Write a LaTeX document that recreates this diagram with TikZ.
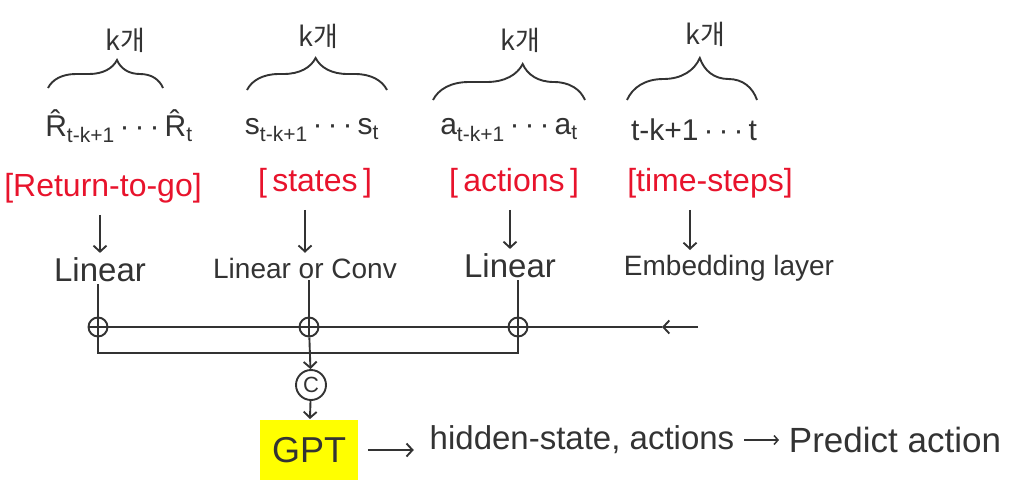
\documentclass[tikz,border=0pt]{standalone}
\usepackage{fontspec}
\setmainfont{Liberation Sans}
\newfontfamily\krfont{Noto Sans CJK KR}
\usetikzlibrary{arrows.meta,decorations.pathreplacing}
\definecolor{ink}{HTML}{333333}
\definecolor{mark}{HTML}{E8132C}
\definecolor{hilite}{HTML}{FFFF00}
\newcommand{\sub}[1]{\textsubscript{#1}}
\newcommand{\seqdots}{\,·\,·\,·\,}

\begin{document}
\begin{tikzpicture}[x=1pt,y=-1pt,line width=1.9pt,draw=ink,
  every node/.style={text=ink,inner sep=1pt},
  cnt/.style={font=\krfont\fontsize{27}{30}\selectfont},
  seqlbl/.style={font=\fontsize{30}{34}\selectfont},
  redlbl/.style={text=mark,font=\fontsize{32}{38}\selectfont},
  layer/.style={font=\fontsize{28}{32}\selectfont},
  plusnode/.style={circle,draw=ink,minimum size=19pt,inner sep=0pt,
    path picture={\draw[ink,line width=1.6pt] (path picture bounding box.north) -- (path picture bounding box.south)
      (path picture bounding box.west) -- (path picture bounding box.east);}},
  arr/.style={draw=ink,-{Straight Barb[length=6pt,width=13pt]}},
  sarr/.style={draw=ink,-{Straight Barb[length=4pt,width=9pt]},line width=1.5pt}]
  \useasboundingbox (0,0) rectangle (1011,488);

  % braces with k items
  \draw[decorate,decoration={brace,amplitude=28pt,aspect=0.6}] (48,88) -- (163,88);
  \draw[decorate,decoration={brace,amplitude=32pt,aspect=0.49}] (247,90) -- (387,90);
  \draw[decorate,decoration={brace,amplitude=36pt,aspect=0.59}] (433,100) -- (585,100);
  \draw[decorate,decoration={brace,amplitude=42pt,aspect=0.56}] (627,100) -- (757,100);
  \node[cnt] (kone) at (125,40){k개};
  \node[cnt] (ktwo) at (318,36){k개};
  \node[cnt] (kthree) at (520,40){k개};
  \node[cnt] (kfour) at (705,34){k개};

  % token sequences
  \node[seqlbl] (rseq) at (119,126){\^{R}\sub{t-k+1}\seqdots\^{R}\sub{t}};
  \node[seqlbl] (sseq) at (312,130){s\sub{t-k+1}\seqdots s\sub{t}};
  \node[seqlbl] (aseq) at (509,130){a\sub{t-k+1}\seqdots a\sub{t}};
  \node[seqlbl] (tseq) at (694,130){t-k+1\seqdots t};

  \node[redlbl] (rtg) at (103,188){[Return-to-go]};
  \node[redlbl] (states) at (315,183){[\,states\,]};
  \node[redlbl] (actions) at (514,183){[\,actions\,]};
  \node[redlbl] (tsteps) at (710,183){[time-steps]};

  \node[layer,font=\fontsize{33}{36}\selectfont] (linone) at (100,270){Linear};
  \node[layer] (linconv) at (305,268){Linear or Conv};
  \node[layer,font=\fontsize{33}{36}\selectfont] (linthree) at (510,266){Linear};
  \node[layer] (emb) at (729,268){Embedding layer};

  \draw[arr,shorten <=10pt,shorten >=3pt] (rtg.south -| linone) -- (linone);
  \draw[arr,shorten <=10pt,shorten >=3pt] (states.south -| linconv) -- (linconv);
  \draw[arr,shorten <=10pt,shorten >=3pt] (actions.south -| linthree) -- (linthree);
  \draw[arr,shorten <=10pt,shorten >=3pt] ([xshift=-20pt]tsteps.south) -- ([xshift=-20pt]tsteps.south |- emb.north);

  % sum nodes and rails
  \node[plusnode] (pone) at (98,327){};
  \node[plusnode] (ptwo) at (309,327){};
  \node[plusnode] (pthree) at (518,327){};
  \coordinate (tin) at (698,327);
  \coordinate (tmid) at (662,327);
  \coordinate (jl) at (98,353);
  \coordinate (jr) at (518,353);

  \draw (linone.south -| pone) -- (pone);
  \draw (linconv.south -| ptwo) -- (ptwo);
  \draw (linthree.south -| pthree) -- (pthree);
  \draw[arr] (tin) -- (tmid);
  \draw (tmid) -- (pthree) -- (ptwo) -- (pone);
  \draw (pone) -- (jl) -- (jr) -- (pthree);

  \node[circle,draw=ink,minimum size=30pt,inner sep=0pt,font=\fontsize{22}{24}\selectfont] (cat) at (311,385){C};
  \node[fill=hilite,minimum width=98pt,minimum height=60pt,font=\fontsize{36}{40}\selectfont] (gpt) at (309,450){GPT};
  \node[layer,font=\fontsize{33}{38}\selectfont] (hidden) at (582,440){hidden-state, actions};
  \node[layer,font=\fontsize{35}{40}\selectfont] (predict) at (895,440){Predict action};

  \draw[arr] (ptwo) -- (cat);
  \draw[arr] (cat) -- (gpt);
  \draw[arr,shorten <=9pt,shorten >=14pt] (gpt.east) -- (gpt.east -| hidden.west);
  \draw[sarr,shorten <=8pt,shorten >=8pt] (hidden) -- (predict);
\end{tikzpicture}
\end{document}
